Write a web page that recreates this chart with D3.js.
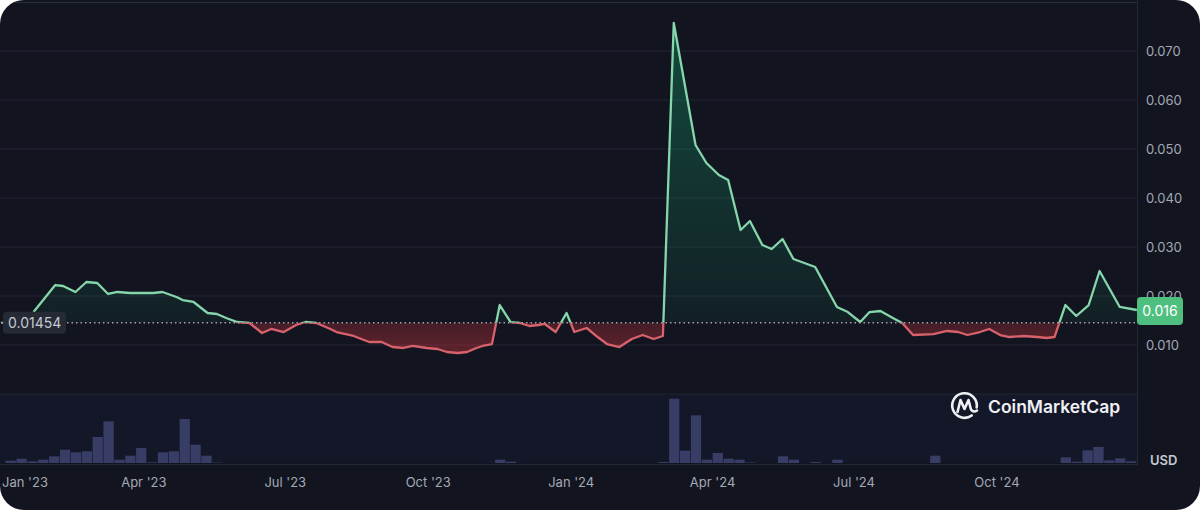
<!DOCTYPE html>
<html>
<head>
<meta charset="utf-8">
<script src="https://cdn.jsdelivr.net/npm/d3@7"></script>
<style>
  body { margin: 0; background: #ffffff; }
  svg { display: block; font-family: Inter, "Noto Sans", sans-serif; }
</style>
</head>
<body>
<script>
'use strict';
// price series
let priceDates = ["2023-01-20","2023-02-03","2023-02-08","2023-02-16","2023-02-23","2023-03-02","2023-03-09","2023-03-15","2023-03-23","2023-04-07",
  "2023-04-13","2023-04-22","2023-04-26","2023-05-03","2023-05-12","2023-05-18","2023-05-24","2023-05-31","2023-06-08","2023-06-16",
  "2023-06-22","2023-06-30","2023-07-08","2023-07-14","2023-07-21","2023-07-30","2023-08-03","2023-08-14","2023-08-24","2023-09-01",
  "2023-09-08","2023-09-15","2023-09-21","2023-09-30","2023-10-07","2023-10-13","2023-10-20","2023-10-26","2023-11-01","2023-11-05",
  "2023-11-11","2023-11-16","2023-11-23","2023-11-29","2023-12-05","2023-12-11","2023-12-15","2023-12-22","2023-12-29","2024-01-03",
  "2024-01-11","2024-01-18","2024-01-24","2024-02-01","2024-02-09","2024-02-16","2024-02-23","2024-02-29","2024-03-07","2024-03-21",
  "2024-03-28","2024-04-05","2024-04-11","2024-04-19","2024-04-25","2024-05-03","2024-05-09","2024-05-16","2024-05-23","2024-06-06",
  "2024-06-20","2024-06-27","2024-07-05","2024-07-11","2024-07-18","2024-07-26","2024-08-01","2024-08-08","2024-08-21","2024-08-30",
  "2024-09-06","2024-09-12","2024-09-20","2024-09-26","2024-10-03","2024-10-09","2024-10-18","2024-10-27","2024-11-02","2024-11-07",
  "2024-11-14","2024-11-21","2024-11-29","2024-12-06","2024-12-19","2024-12-30"];
let priceValues = [0.01673,0.02224,0.02204,0.02082,0.02286,0.02265,0.02041,0.02082,0.02061,0.02061,
  0.02082,0.0198,0.01918,0.01878,0.01653,0.01633,0.01551,0.01469,0.01449,0.01245,
  0.01327,0.01265,0.01408,0.01469,0.01449,0.01327,0.01265,0.01184,0.01061,0.01061,
  0.00959,0.00939,0.0098,0.00939,0.00918,0.00857,0.00837,0.00857,0.00939,0.0098,
  0.0102,0.01816,0.01469,0.01449,0.01388,0.01408,0.01429,0.01265,0.01653,0.01265,
  0.01347,0.01163,0.0102,0.00959,0.01122,0.01204,0.01122,0.01184,0.07571,0.05082,
  0.04714,0.04469,0.04367,0.03347,0.03531,0.03041,0.02959,0.03163,0.02755,0.02592,
  0.01776,0.01673,0.01469,0.01673,0.01694,0.01551,0.01449,0.01204,0.01224,0.01286,
  0.01265,0.01204,0.01265,0.01327,0.01204,0.01163,0.01184,0.01163,0.01143,0.01163,
  0.01816,0.01592,0.01816,0.0251,0.01776,0.01714];

// weekly volume (relative units)
let volumeWeeks = ["2023-01-02","2023-01-09","2023-01-16","2023-01-23","2023-01-30","2023-02-06","2023-02-13","2023-02-20","2023-02-27","2023-03-06",
  "2023-03-13","2023-03-20","2023-03-27","2023-04-03","2023-04-10","2023-04-17","2023-04-24","2023-05-01","2023-05-08","2023-05-15",
  "2023-11-13","2023-11-20","2024-02-26","2024-03-04","2024-03-11","2024-03-18","2024-03-25","2024-04-01","2024-04-08","2024-04-15",
  "2024-04-22","2024-05-13","2024-05-20","2024-06-03","2024-06-17","2024-08-19","2024-11-11","2024-11-18","2024-11-25","2024-12-02",
  "2024-12-09","2024-12-16","2024-12-23"];
let volumeValues = [23,43,17,33,67,133,107,117,260,417,
  33,73,150,7,107,117,440,183,73,4,
  33,13,10,643,123,477,33,100,43,33,
  5,67,33,10,33,73,57,13,127,160,
  27,47,17];

let baseValue = 0.01454;
let baseLabel = "0.01454";
let lastLabel = "0.016";
let yTicks = [0.01, 0.02, 0.03, 0.04, 0.05, 0.06, 0.07];
let xTickDates = ["2023-01-01","2023-04-01","2023-07-01","2023-10-01","2024-01-01","2024-04-01","2024-07-01","2024-10-01"];
let xTickLabels = ["Jan '23","Apr '23","Jul '23","Oct '23","Jan '24","Apr '24","Jul '24","Oct '24"];

let parse = d3.timeParse("%Y-%m-%d");
let prices = priceDates.map((d, i) => ({date: parse(d), value: priceValues[i]}));
let volumes = volumeWeeks.map((d, i) => ({date: parse(d), value: volumeValues[i]}));

let W = 1200, H = 510, plotRight = 1137;

let svg = d3.select("body").append("svg")
  .attr("width", W)
  .attr("height", H);

let x = d3.scaleTime()
  .domain([parse("2023-01-01"), parse("2024-10-01")])
  .range([4, 997]);
let y = d3.scaleLinear().domain([0, 0.07]).range([394, 51]);
let yVol = d3.scaleLinear().domain([0, 670]).range([463, 396]);
let yBase = y(baseValue);

let defs = svg.append("defs");
defs.append("clipPath").attr("id", "card")
  .append("rect").attr("width", W).attr("height", H).attr("rx", 24);
defs.append("clipPath").attr("id", "above")
  .append("rect").attr("x", 0).attr("y", 0).attr("width", plotRight).attr("height", yBase);
defs.append("clipPath").attr("id", "below")
  .append("rect").attr("x", 0).attr("y", yBase).attr("width", plotRight).attr("height", 394 - yBase);

let gGreen = defs.append("linearGradient").attr("id", "gGreen")
  .attr("gradientUnits", "userSpaceOnUse")
  .attr("x1", 0).attr("x2", 0).attr("y1", y(0.0757)).attr("y2", yBase);
gGreen.append("stop").attr("offset", 0).attr("stop-color", "#16c784").attr("stop-opacity", 0.3);
gGreen.append("stop").attr("offset", 1).attr("stop-color", "#16c784").attr("stop-opacity", 0.06);

let gRed = defs.append("linearGradient").attr("id", "gRed")
  .attr("gradientUnits", "userSpaceOnUse")
  .attr("x1", 0).attr("x2", 0).attr("y1", yBase).attr("y2", y(0.0083));
gRed.append("stop").attr("offset", 0).attr("stop-color", "#ea3943").attr("stop-opacity", 0.24);
gRed.append("stop").attr("offset", 1).attr("stop-color", "#ea3943").attr("stop-opacity", 0.36);

let card = svg.append("g").attr("clip-path", "url(#card)");
card.append("rect").attr("width", W).attr("height", H).attr("fill", "#12151f");

// volume panel background
card.append("rect")
  .attr("x", 0).attr("y", 394).attr("width", plotRight).attr("height", 69)
  .attr("fill", "#131728");

// grid lines
card.selectAll("line.grid")
  .data(yTicks.concat([0]))
  .enter().append("line")
    .attr("class", "grid")
    .attr("x1", 0).attr("x2", plotRight)
    .attr("y1", d => y(d)).attr("y2", d => y(d))
    .attr("stroke", "#232734").attr("stroke-width", 1);
card.append("line")
  .attr("x1", 0).attr("x2", plotRight).attr("y1", 2.5).attr("y2", 2.5)
  .attr("stroke", "#2a2e3b");
card.append("line")
  .attr("x1", 0).attr("x2", plotRight).attr("y1", 464.5).attr("y2", 464.5)
  .attr("stroke", "#232734");
card.append("line")
  .attr("x1", plotRight + 0.5).attr("x2", plotRight + 0.5).attr("y1", 0).attr("y2", 465)
  .attr("stroke", "#232734");

// volume bars
card.selectAll("rect.vol")
  .data(volumes)
  .enter().append("rect")
    .attr("class", "vol")
    .attr("x", d => x(d.date))
    .attr("width", d => x(d3.timeDay.offset(d.date, 7)) - x(d.date) - 0.6)
    .attr("y", d => yVol(d.value))
    .attr("height", d => 463 - yVol(d.value))
    .attr("fill", "#383d66");

// price areas
let area = d3.area()
  .x(d => x(d.date))
  .y0(yBase)
  .y1(d => y(d.value));
let line = d3.line()
  .x(d => x(d.date))
  .y(d => y(d.value));

card.append("path").datum(prices)
  .attr("d", area).attr("fill", "url(#gGreen)").attr("clip-path", "url(#above)");
card.append("path").datum(prices)
  .attr("d", area).attr("fill", "url(#gRed)").attr("clip-path", "url(#below)");

// baseline
card.append("line")
  .attr("x1", 67).attr("x2", plotRight)
  .attr("y1", yBase).attr("y2", yBase)
  .attr("stroke", "#9ca1ad").attr("stroke-width", 1.5)
  .attr("stroke-dasharray", "1.5,3");

card.append("path").datum(prices)
  .attr("d", line).attr("fill", "none")
  .attr("stroke", "#86d6ac").attr("stroke-width", 2.3).attr("stroke-linejoin", "round")
  .attr("clip-path", "url(#above)");
card.append("path").datum(prices)
  .attr("d", line).attr("fill", "none")
  .attr("stroke", "#d8626c").attr("stroke-width", 2.3).attr("stroke-linejoin", "round")
  .attr("clip-path", "url(#below)");

// y axis labels
card.selectAll("text.ytick")
  .data(yTicks)
  .enter().append("text")
    .attr("class", "ytick")
    .attr("x", 1146).attr("y", d => y(d))
    .attr("dy", "0.35em")
    .attr("font-size", 13)
    .attr("fill", "#a3a8b5")
    .text(d3.format(".3f"));

// x axis labels
card.selectAll("text.xtick")
  .data(xTickDates)
  .enter().append("text")
    .attr("class", "xtick")
    .attr("x", (d, i) => i === 0 ? 2 : x(parse(d)))
    .attr("y", 482)
    .attr("dy", "0.35em")
    .attr("text-anchor", (d, i) => i === 0 ? "start" : "middle")
    .attr("font-size", 13)
    .attr("fill", "#a3a8b5")
    .text((d, i) => xTickLabels[i]);

card.append("text")
  .attr("x", 1150).attr("y", 460).attr("dy", "0.35em")
  .attr("font-size", 13).attr("font-weight", 600)
  .attr("fill", "#c3c7d2")
  .text("USD");

// base value label
card.append("rect")
  .attr("x", 3).attr("y", yBase - 11).attr("width", 63).attr("height", 22).attr("rx", 4)
  .attr("fill", "#262a35");
card.append("circle").attr("cx", 2).attr("cy", yBase).attr("r", 1.2).attr("fill", "#9ca1ad");
card.append("text")
  .attr("x", 8).attr("y", yBase).attr("dy", "0.35em")
  .attr("font-size", 14).attr("fill", "#c5c9d4")
  .text(baseLabel);

// last price label
let last = prices[prices.length - 1];
card.append("rect")
  .attr("x", plotRight).attr("y", y(last.value) - 13).attr("width", 46).attr("height", 28).attr("rx", 4)
  .attr("fill", "#4fbf80");
card.append("text")
  .attr("x", plotRight + 23).attr("y", y(last.value) + 1).attr("dy", "0.35em")
  .attr("text-anchor", "middle")
  .attr("font-size", 14).attr("fill", "#ffffff")
  .text(lastLabel);

// watermark
let logo = card.append("g").attr("fill", "none").attr("stroke", "#eef0f4")
  .attr("stroke-width", 2.6).attr("stroke-linecap", "round").attr("stroke-linejoin", "round");
let p = d3.path();
p.arc(964.5, 405.5, 12.3, Math.PI * 0.3, Math.PI * 2.05);
logo.append("path").attr("d", p.toString());
logo.append("path").attr("d", "M957.5,412 L960.5,400 L964.5,409 L968.5,400 L971,409.5 Q973.5,413 977,410.5");
card.append("text")
  .attr("x", 988).attr("y", 407).attr("dy", "0.35em")
  .attr("font-size", 17.5).attr("font-weight", 600)
  .attr("fill", "#eef0f4")
  .text("CoinMarketCap");
</script>
</body>
</html>
